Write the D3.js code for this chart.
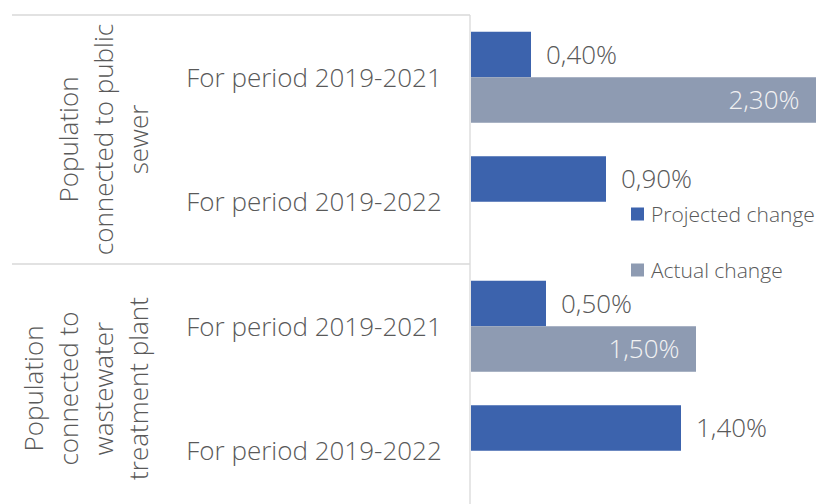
<!DOCTYPE html>
<html>
<head>
<meta charset="utf-8">
<script src="https://cdn.jsdelivr.net/npm/d3@7"></script>
<style>
  html, body { margin: 0; padding: 0; background: #fff; }
  svg { display: block; overflow: hidden; }
  text { font-family: 'Open Sans', sans-serif; font-weight: 300; fill: #595959; }
</style>
</head>
<body>
<script>
// data
var groups = ['Population connected to public sewer', 'Population connected to wastewater treatment plant']
var groupLines = [
  ['Population', 'connected to public', 'sewer'],
  ['Population', 'connected to', 'wastewater', 'treatment plant']
]
var periods = ['For period 2019-2021', 'For period 2019-2022']
var seriesNames = ['Projected change', 'Actual change']
// values in percent, one per group x period
var projected = [0.4, 0.9, 0.5, 1.4]
var actual = [2.3, null, 1.5, null]

var colors = {
  projected: '#3c63ad',
  actual: '#8e9bb2',
  text: '#595959',
  line: '#d9d9d9'
}

var width = 818,
  height = 504,
  bigFont = 26,
  legendFont = 21

var svg = d3.select('body').
  append('svg').
  attr('width', width).
  attr('height', height)

// one row per group/period
var rows = []
groups.forEach(function (g, gi) {
  periods.forEach(function (p, pi) {
    var i = gi * periods.length + pi
    rows.push({id: gi + '|' + pi, group: gi, period: p, projected: projected[i], actual: actual[i]})
  })
})

var x = d3.scaleLinear().domain([0, 2.3]).range([471, 816])
var y0 = d3.scaleBand().domain(rows.map(function (d) { return d.id })).range([15, 513])
var y1 = d3.scaleBand().domain(['projected', 'actual']).range([0, y0.bandwidth()]).paddingOuter(0.368)

var locale = d3.formatLocale({decimal: ',', thousands: '.', grouping: [3], currency: ['', '%']})
var fmt = function (v) { return locale.format('.2f')(v) + '%' }

// axis lines
var axis = svg.append('g').attr('class', 'axis')
axis.append('line').
  attr('x1', 470).attr('x2', 470).
  attr('y1', 15).attr('y2', 513).
  attr('stroke', colors.line).attr('stroke-width', 1.3)

var groupEdges = [0, 2, 4].map(function (i) {
  return i < rows.length ? y0(rows[i].id) : y0.range()[1]
})
axis.selectAll('line.sep').
  data(groupEdges).
  enter().
  append('line').
  attr('class', 'sep').
  attr('x1', 12).attr('x2', 470).
  attr('y1', function (d) { return d }).
  attr('y2', function (d) { return d }).
  attr('stroke', colors.line).attr('stroke-width', 1.3)

// period labels
axis.selectAll('text.period').
  data(rows).
  enter().
  append('text').
  attr('class', 'period').
  attr('x', 314).
  attr('y', function (d) { return y0(d.id) + y0.bandwidth() / 2 }).
  attr('dy', '0.36em').
  attr('text-anchor', 'middle').
  attr('font-size', bigFont).
  text(function (d) { return d.period })

// group labels, rotated, last line anchored at the right
var lineGap = 34.7
groups.forEach(function (g, gi) {
  var top = y0(rows[gi * 2].id),
    mid = top + y0.bandwidth()
  var lines = groupLines[gi]
  var t = axis.append('g').
    attr('transform', 'translate(0,' + mid + ') rotate(-90)')
  t.selectAll('text').
    data(lines).
    enter().
    append('text').
    attr('x', 0).
    attr('y', function (d, i) { return 147.5 - (lines.length - 1 - i) * lineGap }).
    attr('text-anchor', 'middle').
    attr('font-size', bigFont).
    text(function (d) { return d })
})

// bars
var barG = svg.append('g').attr('class', 'bars')
var bars = barG.selectAll('g.row').
  data(rows).
  enter().
  append('g').
  attr('class', 'row').
  attr('transform', function (d) { return 'translate(0,' + y0(d.id) + ')' })

bars.selectAll('rect').
  data(function (d) {
    return [{key: 'projected', v: d.projected}, {key: 'actual', v: d.actual}].
      filter(function (e) { return e.v != null })
  }).
  enter().
  append('rect').
  attr('x', x(0)).
  attr('y', function (d) { return y1(d.key) }).
  attr('width', function (d) { return x(d.v) - x(0) }).
  attr('height', y1.bandwidth()).
  attr('fill', function (d) { return colors[d.key] })

// data labels
bars.selectAll('text').
  data(function (d) {
    return [{key: 'projected', v: d.projected}, {key: 'actual', v: d.actual}].
      filter(function (e) { return e.v != null })
  }).
  enter().
  append('text').
  attr('x', function (d) {
    return d.key === 'projected' ? x(d.v) + 15 : x(d.v) - 16.5
  }).
  attr('y', function (d) { return y1(d.key) + y1.bandwidth() / 2 }).
  attr('dy', '0.36em').
  attr('text-anchor', function (d) { return d.key === 'projected' ? 'start' : 'end' }).
  attr('font-size', bigFont).
  style('fill', function (d) { return d.key === 'projected' ? colors.text : '#f2f2f2' }).
  text(function (d) { return fmt(d.v) })

// legend
var legend = svg.append('g').attr('class', 'legend').
  selectAll('g').
  data(seriesNames).
  enter().
  append('g').
  attr('transform', function (d, i) { return 'translate(631,' + (214 + i * 56) + ')' })

legend.append('rect').
  attr('x', 0).attr('y', -6.5).
  attr('width', 13).attr('height', 13).
  attr('fill', function (d, i) { return i === 0 ? colors.projected : colors.actual })

legend.append('text').
  attr('x', 20).
  attr('dy', '0.36em').
  attr('font-size', legendFont).
  text(function (d) { return d })
</script>
</body>
</html>
